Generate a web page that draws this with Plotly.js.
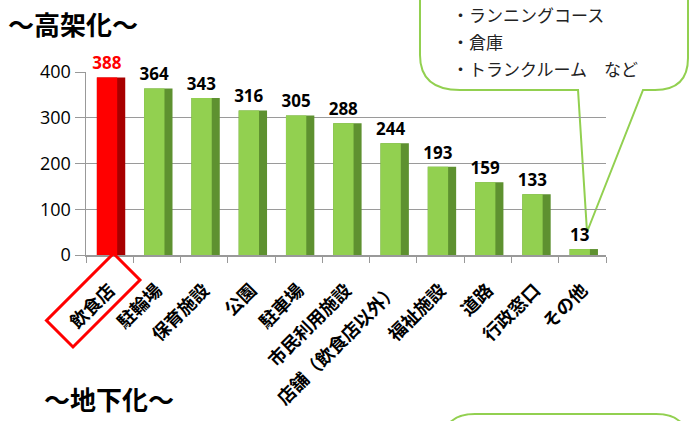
<!DOCTYPE html>
<html>
<head>
<meta charset="utf-8">
<script src="https://cdn.plot.ly/plotly-3.0.1.min.js"></script>
<style>html,body{margin:0;padding:0;background:#fff;}#chart{width:694px;height:421px;}</style>
</head>
<body>
<div id="chart"></div>
<script>
// ---- data ----
const categories = ['飲食店','駐輪場','保育施設','公園','駐車場','市民利用施設','店舗（飲食店以外）','福祉施設','道路','行政窓口','その他'];
const counts = [388, 364, 343, 316, 305, 288, 244, 193, 159, 133, 13];
const yTicks = [0, 100, 200, 300, 400];
const calloutLines = ['・ランニングコース', '・倉庫', '・トランクルーム　など'];
const topTitle = '～高架化～';
const bottomTitle = '～地下化～';

// ---- layout geometry ----
const W = 694, H = 421;
const M = {l: 86, r: 88, t: 72, b: 166};
const PW = W - M.l - M.r, PH = H - M.t - M.b;
const px = x => (x - M.l) / PW;
const py = y => 1 - (y - M.t) / PH;
const P = (x, y) => px(x).toFixed(4) + ',' + py(y).toFixed(4);

const frontColors = counts.map((v, i) => i === 0 ? '#FF0000' : '#92D050');
const sideColors = counts.map((v, i) => i === 0 ? '#A80000' : '#5E9130');
const labelColors = counts.map((v, i) => i === 0 ? '#FF0000' : '#000000');

const side = {
  type: 'bar', x: categories, y: counts,
  width: 0.6, offset: -0.27,
  marker: {color: sideColors, line: {width: 0}},
  hoverinfo: 'skip'
};
const front = {
  type: 'bar', x: categories, y: counts,
  width: 0.43, offset: -0.27,
  marker: {color: frontColors, line: {width: 0}},
  text: counts.map(String), textposition: 'outside', cliponaxis: false, constraintext: 'none',
  textfont: {family: 'Noto Sans, Open Sans, sans-serif', size: 17, weight: 'bold', color: labelColors},
  hoverinfo: 'skip'
};

const callout = 'M ' + P(420, -30) + ' L ' + P(420, 55) + ' Q ' + P(420, 90) + ' ' + P(460, 90) +
  ' L ' + P(578, 90) + ' L ' + P(587, 232) + ' L ' + P(643, 90) + ' L ' + P(655, 90) +
  ' Q ' + P(688, 90) + ' ' + P(688, 58) + ' L ' + P(688, -30) + ' Z';
const redBox = 'M ' + P(46.5, 320.5) + ' L ' + P(73, 347) + ' L ' + P(140, 280) + ' L ' + P(113.5, 253.5) + ' Z';
const bottomBox = 'M ' + P(443, 460) + ' L ' + P(443, 444) + ' Q ' + P(443, 414) + ' ' + P(475, 414) +
  ' L ' + P(656, 414) + ' Q ' + P(688, 414) + ' ' + P(688, 444) + ' L ' + P(688, 460) + ' Z';

const annotations = [
  {text: topTitle, xref: 'paper', yref: 'paper', x: px(6), y: py(24), xanchor: 'left', yanchor: 'middle',
   showarrow: false, font: {family: 'Noto Sans CJK JP', size: 26, weight: 'bold', color: '#000'}},
  {text: bottomTitle, xref: 'paper', yref: 'paper', x: px(42), y: py(398), xanchor: 'left', yanchor: 'middle',
   showarrow: false, font: {family: 'Noto Sans CJK JP', size: 26, weight: 'bold', color: '#000'}}
];
calloutLines.forEach((t, i) => annotations.push({
  text: t, xref: 'paper', yref: 'paper', x: px(450), y: py(14 + i * 27), xanchor: 'left', yanchor: 'middle',
  showarrow: false, font: {family: 'Noto Sans CJK JP', size: 17, color: '#222'}
}));

const layout = {
  width: W, height: H, margin: M,
  paper_bgcolor: '#fff', plot_bgcolor: '#fff',
  showlegend: false, barmode: 'overlay', hovermode: false,
  xaxis: {
    type: 'category', tickangle: -45, showgrid: false, showline: true, linecolor: '#999', linewidth: 1.5,
    ticks: 'outside', tickson: 'boundaries', ticklen: 6, tickcolor: '#999', ticklabelstandoff: 16,
    tickfont: {family: 'Noto Sans CJK JP', size: 18, weight: 'bold', color: '#000'}
  },
  yaxis: {
    range: [0, 400], tickvals: yTicks, ticktext: yTicks.map(String), showgrid: true, gridcolor: '#9a9a9a', gridwidth: 1,
    showline: true, linecolor: '#999', linewidth: 1.5, ticks: 'outside', ticklen: 10, tickcolor: '#999', zeroline: false,
    tickfont: {family: 'Open Sans, sans-serif', size: 18, color: '#000'}
  },
  shapes: [
    {type: 'path', xref: 'paper', yref: 'paper', path: callout, layer: 'between', fillcolor: '#fff', line: {color: '#92D050', width: 2}},
    {type: 'path', xref: 'paper', yref: 'paper', path: redBox, fillcolor: 'rgba(0,0,0,0)', line: {color: '#FF0000', width: 3}},
    {type: 'path', xref: 'paper', yref: 'paper', path: bottomBox, fillcolor: '#fff', line: {color: '#92D050', width: 2}}
  ],
  annotations: annotations
};

Plotly.newPlot('chart', [side, front], layout, {displayModeBar: false, staticPlot: true});
</script>
</body>
</html>
